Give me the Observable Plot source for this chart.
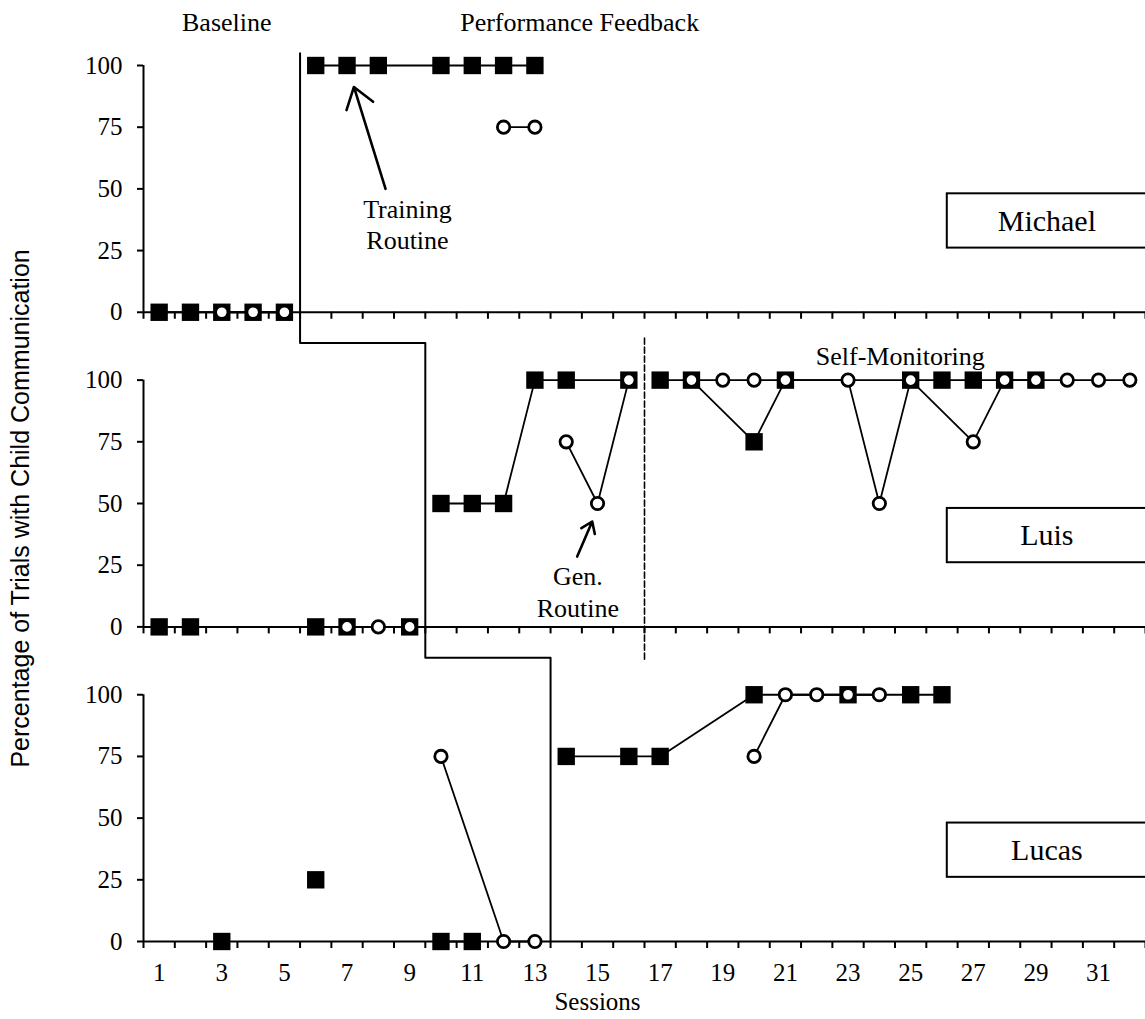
<!DOCTYPE html>
<html>
<head>
<meta charset="utf-8">
<script src="https://cdn.jsdelivr.net/npm/d3@7"></script>
<script src="https://cdn.jsdelivr.net/npm/@observablehq/plot@0.6"></script>
<style>
  html, body { margin: 0; padding: 0; background: #fff; }
  #chart svg { display: block; }
</style>
</head>
<body>
<div id="chart"></div>
<script>
// ---------------- DATA ----------------
const panels = ["Michael", "Luis", "Lucas"];
const yTickValues = [0, 25, 50, 75, 100];
const xTickLabels = [1, 3, 5, 7, 9, 11, 13, 15, 17, 19, 21, 23, 25, 27, 29, 31];
const xTickMarks = [0.5, 1.5, 2.5, 3.5, 4.5, 5.5, 6.5, 7.5, 8.5, 9.5, 10.5, 11.5, 12.5, 13.5, 14.5, 15.5,
  16.5, 17.5, 18.5, 19.5, 20.5, 21.5, 22.5, 23.5, 24.5, 25.5, 26.5, 27.5, 28.5, 29.5, 30.5, 31.5, 32.5];

// [session, percent]; null = break in the line
// Michael
const michaelTrainingBaseline = [[1, 0], [2, 0], [3, 0], [4, 0], [5, 0]];
const michaelGenBaseline      = [[3, 0], [4, 0], [5, 0]];
const michaelTrainingFeedback = [[6, 100], [7, 100], [8, 100], [10, 100], [11, 100], [12, 100], [13, 100]];
const michaelGenFeedback      = [[12, 75], [13, 75]];
// Luis
const luisTrainingBaseline = [[1, 0], [2, 0], [6, 0], [7, 0], [9, 0]];
const luisGenBaseline      = [[7, 0], [8, 0], [9, 0]];
const luisTrainingFeedback = [[10, 50], [11, 50], [12, 50], [13, 100], [14, 100], [16, 100]];
const luisGenFeedback      = [[14, 75], [15, 50], [16, 100]];
const luisTrainingSelfMon  = [[17, 100], [18, 100], [20, 75], [21, 100], [25, 100], [26, 100], [27, 100], [28, 100], [29, 100]];
const luisGenSelfMon       = [[18, 100], [19, 100], [20, 100], [21, 100], [23, 100], [24, 50], [25, 100], [27, 75],
                              [28, 100], [29, 100], [30, 100], [31, 100], [32, 100]];
// Lucas
const lucasTrainingBaseline = [[3, 0], [4, null], [6, 25], [7, null], [10, 0], [11, 0]];
const lucasGenBaseline      = [[10, 75], [12, 0], [13, 0]];
const lucasTrainingFeedback = [[14, 75], [16, 75], [17, 75], [20, 100], [23, 100], [25, 100], [26, 100]];
const lucasGenFeedback      = [[20, 75], [21, 100], [22, 100], [23, 100], [24, 100]];

const seriesList = [
  ["Michael", "training", michaelTrainingBaseline], ["Michael", "gen", michaelGenBaseline],
  ["Michael", "training", michaelTrainingFeedback], ["Michael", "gen", michaelGenFeedback],
  ["Luis", "training", luisTrainingBaseline], ["Luis", "gen", luisGenBaseline],
  ["Luis", "training", luisTrainingFeedback], ["Luis", "gen", luisGenFeedback],
  ["Luis", "training", luisTrainingSelfMon], ["Luis", "gen", luisGenSelfMon],
  ["Lucas", "training", lucasTrainingBaseline], ["Lucas", "gen", lucasGenBaseline],
  ["Lucas", "training", lucasTrainingFeedback], ["Lucas", "gen", lucasGenFeedback]
];

// phase change (multiple-baseline step): [session, panel, percent in that panel]
const phaseChangeSteps = [[5.5, "Michael", 105], [5.5, "Michael", -12.5], [9.5, "Luis", 115], [9.5, "Luis", -12.5],
  [13.5, "Lucas", 115], [13.5, "Lucas", 0]];
const selfMonitoringLine = [[16.5, "Luis", 117], [16.5, "Luis", -14]];

// ---------------- LAYOUT HELPERS ----------------
const OFF = 127.5; // vertical spacing between stacked panels, in percent units
const offsetOf = (name) => (panels.length - 1 - panels.indexOf(name)) * OFF;
const yc = (name, v) => (v == null ? NaN : v + offsetOf(name));

const points = [];
seriesList.forEach(([name, routine, pairs], k) => {
  pairs.forEach(([s, v]) => points.push({panel: name, routine, key: k, x: s, y: yc(name, v)}));
});
const training = points.filter((d) => d.routine === "training" && !isNaN(d.y));
const gen = points.filter((d) => d.routine === "gen" && !isNaN(d.y));

const yTicks = panels.flatMap((p) => yTickValues.map((v) => ({p, v, y: yc(p, v)})));
const xTicks = panels.flatMap((p) => xTickMarks.map((x) => ({p, x, y: yc(p, 0)})));

const serif = "'Liberation Serif', 'Times New Roman', Times, serif";
const sans = "'Liberation Sans', Arial, Helvetica, sans-serif";

const chart = Plot.plot({
  width: 1145,
  height: 1019,
  marginLeft: 143,
  marginRight: 0,
  marginTop: 65,
  marginBottom: 78,
  x: {domain: [0.5, 32.5], axis: null},
  y: {domain: [0, 100 + 2 * OFF], axis: null},
  style: {fontFamily: serif, fontSize: "25px", color: "black", background: "white"},
  marks: [
    // name boxes
    Plot.rect(panels, {x1: 26.17, x2: 34, y1: (p) => yc(p, 26), y2: (p) => yc(p, 48), fill: "white", stroke: "black", strokeWidth: 2}),
    Plot.text(panels, {x: 29.35, y: (p) => yc(p, 37), text: (p) => p, fontSize: 30, fontFamily: serif}),
    // axes lines
    Plot.ruleX(panels, {x: 0.5, y1: (p) => yc(p, 0), y2: (p) => yc(p, 100), strokeWidth: 2}),
    Plot.ruleY(panels, {y: (p) => yc(p, 0), x1: 0.5, x2: 32.5, strokeWidth: 2}),
    // x ticks (down)
    Plot.ruleX(xTicks, {x: "x", y1: "y", y2: "y", insetBottom: -7, strokeWidth: 2}),
    // y ticks (left)
    Plot.ruleY(yTicks, {y: "y", x1: 0.5, x2: 0.5, insetLeft: -6, strokeWidth: 2}),
    Plot.text(yTicks, {x: 0.5, y: "y", text: (d) => String(d.v), textAnchor: "end", dx: -21, fontSize: 25}),
    Plot.text(xTickLabels, {x: (d) => d, y: yc("Lucas", 0), text: (d) => String(d), dy: 31, fontSize: 25}),
    // phase change lines
    Plot.line(phaseChangeSteps, {x: (d) => d[0], y: (d) => yc(d[1], d[2]), stroke: "black", strokeWidth: 2}),
    Plot.line(selfMonitoringLine, {x: (d) => d[0], y: (d) => yc(d[1], d[2]), stroke: "black", strokeWidth: 1.6, strokeDasharray: "6,3"}),
    // data lines
    Plot.line(points.filter((d) => d.routine === "training"), {x: "x", y: "y", z: "key", stroke: "black", strokeWidth: 1.8}),
    Plot.line(points.filter((d) => d.routine === "gen"), {x: "x", y: "y", z: "key", stroke: "black", strokeWidth: 1.8}),
    // markers
    Plot.dot(training, {x: "x", y: "y", symbol: "square", r: 9.8, fill: "black", stroke: "none"}),
    Plot.dot(gen, {x: "x", y: "y", r: 6.2, fill: "white", stroke: "black", strokeWidth: 2.8}),
    // annotations
    Plot.arrow([0], {x1: 8.23, y1: yc("Michael", 50), x2: 7.22, y2: yc("Michael", 91.3), stroke: "black", strokeWidth: 2.6, headLength: 14, headAngle: 70}),
    Plot.text(["Training\nRoutine"], {x: 8.93, y: yc("Michael", 36), text: (d) => d, fontSize: 26, lineHeight: 1.22}),
    Plot.arrow([0], {x1: 14.35, y1: yc("Luis", 28.5), x2: 14.83, y2: yc("Luis", 42.7), stroke: "black", strokeWidth: 2.6, headLength: 14, headAngle: 70}),
    Plot.text(["Gen.\nRoutine"], {x: 14.37, y: yc("Luis", 14.6), text: (d) => d, fontSize: 26, lineHeight: 1.22}),
    Plot.text(["Self-Monitoring"], {x: 24.67, y: yc("Luis", 109.5), text: (d) => d, fontSize: 26}),
    Plot.text(["Baseline"], {x: 3.16, y: yc("Michael", 117.4), text: (d) => d, fontSize: 26}),
    Plot.text(["Performance Feedback"], {x: 14.43, y: yc("Michael", 117.4), text: (d) => d, fontSize: 26}),
    Plot.text(["Sessions"], {x: 15.0, y: yc("Lucas", -24.5), text: (d) => d, fontSize: 25}),
    Plot.text(["Percentage of Trials with Child Communication"], {x: -3.42, y: yc("Luis", 48), text: (d) => d, rotate: -90, fontSize: 25, fontFamily: sans})
  ]
});
document.getElementById("chart").appendChild(chart);
</script>
</body>
</html>
